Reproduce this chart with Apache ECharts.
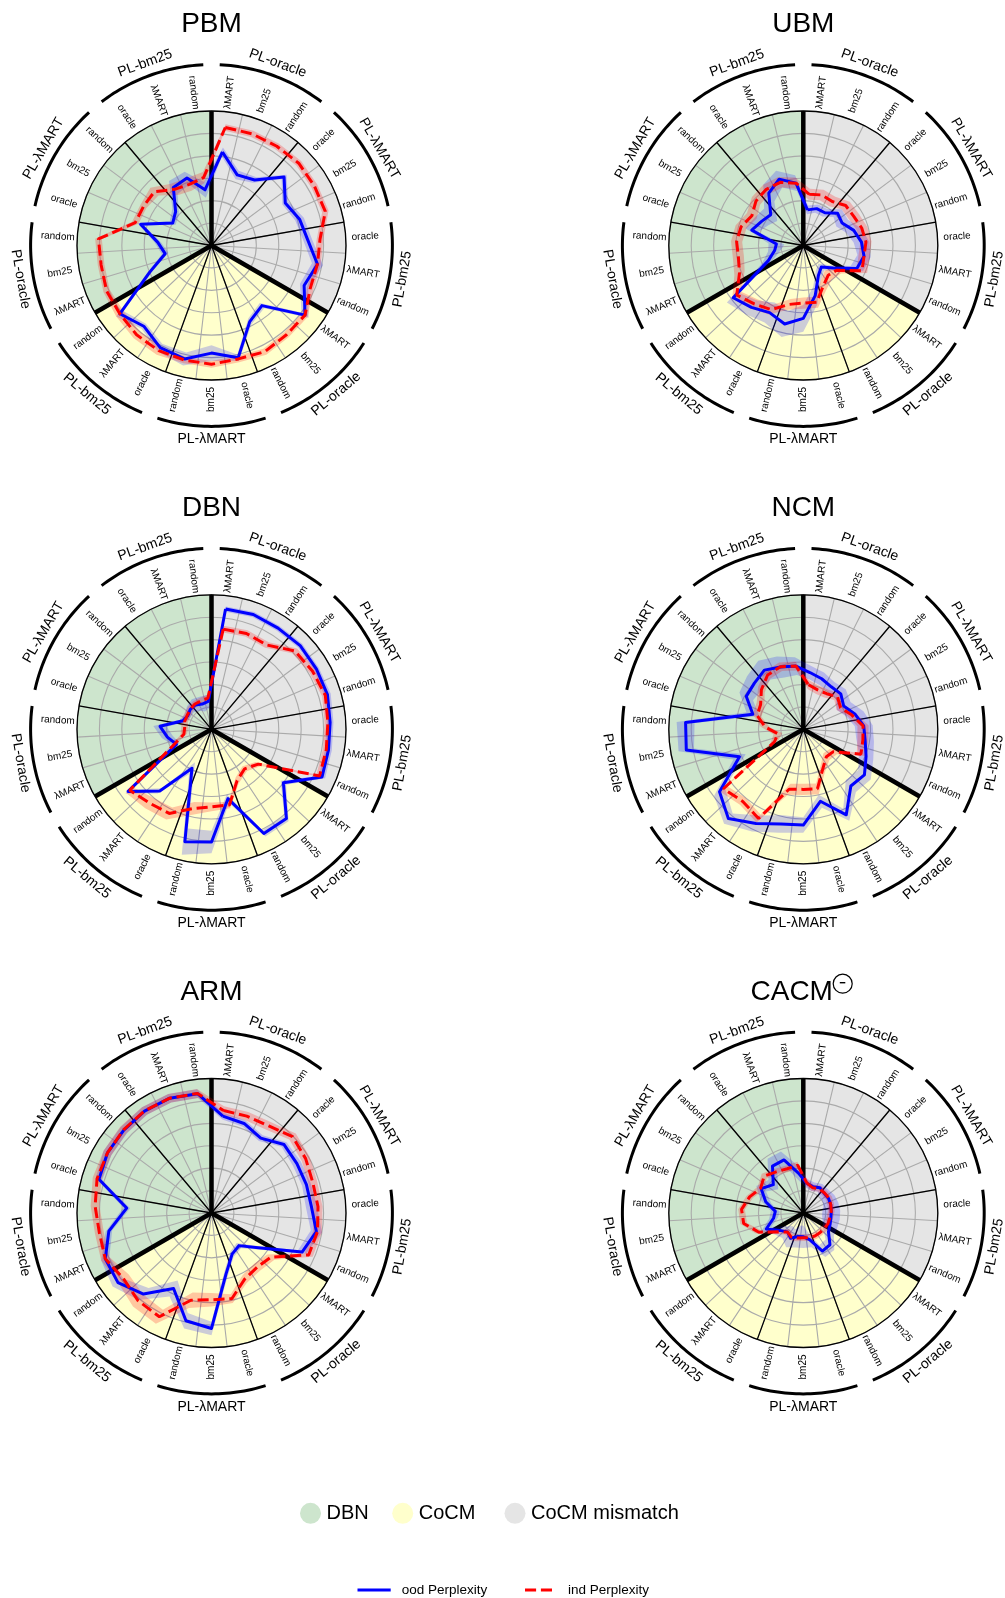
<!DOCTYPE html>
<html>
<head>
<meta charset="utf-8">
<title>Perplexity per click model</title>
<script src="https://cdn.jsdelivr.net/npm/echarts@6/dist/echarts.min.js"></script>
<style>
  html, body { margin: 0; padding: 0; background: #fff; }
  #main { width: 1005px; height: 1598px; }
</style>
</head>
<body>
<div id="main"></div>
<script>
// spokes go clockwise from 12 o'clock: 9 logging-policy groups x 3 rankers
const groupNames = ['PL-oracle', 'PL-λMART', 'PL-bm25', 'PL-oracle', 'PL-λMART', 'PL-bm25', 'PL-oracle', 'PL-λMART', 'PL-bm25']
const groupItems = {
  'PL-oracle': ['λMART', 'bm25', 'random'],
  'PL-λMART': ['oracle', 'bm25', 'random'],
  'PL-bm25': ['oracle', 'λMART', 'random']
}
const sectorColors = ['#e5e5e5', '#ffffcc', '#cde5cd'] // CoCM mismatch, CoCM, DBN
const panelNames = ['PBM', 'UBM', 'DBN', 'NCM', 'ARM', 'CACM']

// values in ring units (6 rings)
const pbmOod = [4.2, 3.35, 3.5, 4.45, 3.8, 4.1, 4.3, 4.8, 4.5, 5.2, 3.5, 3.8, 5.15, 4.8, 5.2, 5.1, 4.7, 5.1, 3.0, 2.1, 2.4, 3.3, 2.0, 2.2, 3.1, 3.2, 2.5]
const pbmOodSpread = [0.2, 0.2, 0.15, 0.15, 0.15, 0.2, 0.2, 0.25, 0.2, 0.2, 0.15, 0.15, 0.15, 0.35, 0.3, 0.2, 0.15, 0.2, 0.15, 0.15, 0.15, 0.15, 0.15, 0.2, 0.35, 0.3, 0.35]
const pbmInd = [5.3, 5.3, 5.3, 5.35, 5.3, 5.3, 4.85, 4.8, 4.8, 5.2, 5.2, 5.3, 5.2, 5.3, 5.25, 5.25, 5.2, 5.1, 5.1, 5.0, 5.05, 3.55, 3.5, 3.5, 3.0, 2.9, 3.05]
const pbmIndSpread = [0.15, 0.15, 0.15, 0.15, 0.15, 0.15, 0.15, 0.15, 0.15, 0.15, 0.15, 0.15, 0.15, 0.15, 0.15, 0.2, 0.2, 0.2, 0.15, 0.15, 0.15, 0.15, 0.15, 0.25, 0.3, 0.3, 0.25]

const ubmOod = [1.6, 1.75, 1.75, 2.1, 2.0, 2.35, 2.6, 2.75, 2.6, 1.68, 1.25, 1.5, 2.3, 3.25, 3.6, 3.35, 3.6, 3.9, 1.7, 1.3, 1.2, 2.4, 2.15, 2.0, 2.8, 3.15, 2.8]
const ubmOodSpread = [0.2, 0.2, 0.2, 0.25, 0.3, 0.35, 0.35, 0.3, 0.3, 0.2, 0.2, 0.25, 0.4, 0.6, 0.6, 0.5, 0.4, 0.35, 0.3, 0.3, 0.35, 0.3, 0.35, 0.4, 0.45, 0.4, 0.35]
const ubmInd = [2.3, 2.4, 2.35, 2.6, 2.6, 2.72, 2.8, 2.75, 2.85, 1.85, 1.73, 2.0, 2.6, 2.57, 2.7, 3.2, 3.4, 3.7, 3.1, 2.94, 2.98, 2.9, 2.65, 2.9, 3.0, 3.0, 2.8]
const ubmIndSpread = [0.25, 0.25, 0.25, 0.25, 0.25, 0.25, 0.25, 0.25, 0.25, 0.25, 0.25, 0.25, 0.25, 0.25, 0.25, 0.25, 0.25, 0.25, 0.25, 0.25, 0.25, 0.25, 0.25, 0.25, 0.25, 0.25, 0.25]

const dbnOod = [5.4, 5.45, 5.4, 5.44, 5.4, 5.4, 5.3, 5.3, 5.37, 4.0, 5.2, 5.2, 3.18, 5.03, 5.15, 1.94, 3.59, 4.64, 1.7, 2.0, 2.3, 1.33, 1.22, 1.3, 1.3, 1.2, 1.25]
const dbnOodSpread = [0.12, 0.12, 0.12, 0.12, 0.12, 0.15, 0.15, 0.15, 0.15, 0.15, 0.15, 0.15, 0.2, 0.5, 0.6, 0.3, 0.15, 0.15, 0.15, 0.25, 0.3, 0.15, 0.15, 0.2, 0.3, 0.35, 0.3]
const dbnInd = [4.5, 4.55, 4.5, 5.1, 5.2, 5.3, 5.2, 5.2, 5.25, 2.6, 2.3, 2.55, 3.47, 3.46, 3.63, 4.2, 4.3, 4.55, 1.9, 1.25, 1.2, 1.25, 1.25, 1.3, 1.35, 1.35, 1.4]
const dbnIndSpread = [0.15, 0.15, 0.15, 0.15, 0.15, 0.15, 0.15, 0.15, 0.15, 0.15, 0.15, 0.15, 0.15, 0.2, 0.3, 0.3, 0.3, 0.2, 0.15, 0.15, 0.15, 0.15, 0.15, 0.15, 0.15, 0.15, 0.15]

const ncmOod = [2.55, 2.4, 2.27, 2.3, 2.08, 2.4, 2.7, 2.8, 3.05, 3.4, 3.3, 4.27, 3.3, 4.27, 4.34, 4.7, 5.2, 4.66, 3.1, 5.3, 5.26, 2.35, 2.94, 3.0, 3.16, 2.96, 2.84]
const ncmOodSpread = [0.3, 0.3, 0.25, 0.3, 0.35, 0.4, 0.4, 0.4, 0.35, 0.35, 0.35, 0.3, 0.3, 0.35, 0.4, 0.4, 0.3, 0.3, 0.3, 0.35, 0.4, 0.3, 0.35, 0.45, 0.5, 0.5, 0.4]
const ncmInd = [2.0, 1.87, 1.9, 2.1, 1.92, 2.25, 2.67, 2.7, 2.8, 1.67, 1.6, 1.95, 2.73, 2.68, 2.75, 4.45, 4.2, 4.44, 1.4, 1.15, 1.7, 2.15, 2.2, 2.57, 2.9, 2.97, 2.84]
const ncmIndSpread = [0.2, 0.2, 0.2, 0.2, 0.2, 0.2, 0.25, 0.25, 0.2, 0.2, 0.2, 0.2, 0.25, 0.25, 0.25, 0.2, 0.2, 0.2, 0.2, 0.2, 0.2, 0.2, 0.2, 0.2, 0.2, 0.2, 0.2]

const armOod = [4.35, 4.25, 4.0, 4.45, 4.4, 4.42, 4.47, 4.75, 4.4, 2.6, 1.9, 2.05, 2.8, 5.15, 4.94, 3.77, 4.72, 5.2, 5.16, 4.65, 3.79, 5.24, 5.36, 5.38, 5.44, 5.45, 5.36]
const armOodSpread = [0.15, 0.15, 0.15, 0.15, 0.2, 0.2, 0.25, 0.25, 0.2, 0.15, 0.15, 0.15, 0.2, 0.3, 0.35, 0.4, 0.35, 0.3, 0.2, 0.15, 0.15, 0.15, 0.2, 0.2, 0.2, 0.2, 0.2]
const armInd = [4.6, 4.6, 4.65, 4.97, 4.85, 4.72, 4.76, 4.8, 4.72, 3.3, 3.16, 3.3, 3.93, 3.87, 4.0, 5.18, 5.1, 4.9, 5.16, 5.08, 5.2, 5.33, 5.36, 5.4, 5.45, 5.45, 5.37]
const armIndSpread = [0.2, 0.2, 0.2, 0.2, 0.2, 0.2, 0.2, 0.2, 0.2, 0.2, 0.2, 0.2, 0.2, 0.3, 0.35, 0.35, 0.35, 0.3, 0.2, 0.2, 0.2, 0.2, 0.2, 0.2, 0.2, 0.2, 0.2]

const cacmOod = [1.33, 1.25, 1.35, 1.28, 1.3, 1.28, 1.25, 1.25, 1.3, 1.4, 1.85, 1.9, 1.22, 1.06, 1.08, 1.26, 1.1, 1.3, 1.8, 1.35, 1.25, 1.75, 2.17, 1.84, 2.5, 2.52, 1.78]
const cacmOodSpread = [0.2, 0.2, 0.2, 0.25, 0.3, 0.35, 0.4, 0.4, 0.35, 0.3, 0.3, 0.3, 0.35, 0.5, 0.5, 0.45, 0.35, 0.3, 0.25, 0.2, 0.2, 0.25, 0.25, 0.3, 0.4, 0.4, 0.35]
const cacmInd = [1.35, 1.2, 1.3, 1.3, 1.32, 1.28, 1.25, 1.2, 1.2, 1.16, 1.15, 1.15, 1.13, 1.1, 1.15, 1.2, 1.1, 1.41, 2.16, 2.7, 2.76, 2.5, 2.2, 2.4, 2.2, 2.1, 2.15]
const cacmIndSpread = [0.15, 0.15, 0.15, 0.15, 0.15, 0.15, 0.15, 0.15, 0.15, 0.15, 0.15, 0.15, 0.15, 0.15, 0.15, 0.15, 0.15, 0.15, 0.15, 0.15, 0.15, 0.15, 0.15, 0.15, 0.15, 0.15, 0.15]

const panelData = [
  [pbmOod, pbmOodSpread, pbmInd, pbmIndSpread],
  [ubmOod, ubmOodSpread, ubmInd, ubmIndSpread],
  [dbnOod, dbnOodSpread, dbnInd, dbnIndSpread],
  [ncmOod, ncmOodSpread, ncmInd, ncmIndSpread],
  [armOod, armOodSpread, armInd, armIndSpread],
  [cacmOod, cacmOodSpread, cacmInd, cacmIndSpread]
]

// layout
const FONT = 'Liberation Sans'
const R = 134.5
const centers = [[211.5, 245.5], [803.3, 245.5], [211.5, 729.3], [803.3, 729.3], [211.5, 1213], [803.3, 1213]]
const RMAX = 6
const GRID = '#aaaaaa'

const spokeLabels = []
const spokeKeys = []
groupNames.forEach((g, j) => {
  groupItems[g].forEach(item => {
    spokeLabels.push(item)
    spokeKeys.push(j + ':' + item)
  })
})
const nSpoke = spokeKeys.length

function closed (vals) {
  const pts = vals.map((v, i) => [v, i])
  pts.push([vals[0], 0])
  return pts
}

function bandSeries (polarIndex, vals, spread, color) {
  return {
    type: 'custom',
    coordinateSystem: 'polar',
    polarIndex: polarIndex,
    z: 4,
    silent: true,
    data: [[0, 0]],
    renderItem (params, api) {
      const outer = vals.map((v, i) => api.coord([v + spread[i], i]))
      const inner = vals.map((v, i) => api.coord([Math.max(v - spread[i], 0), i]))
      const pts = outer.concat([outer[0], inner[0]], inner.slice(1).reverse(), [inner[0]])
      return { type: 'polygon', shape: { points: pts }, style: { fill: color } }
    }
  }
}

function labelSeries (polarIndex) {
  return {
    type: 'custom',
    coordinateSystem: 'polar',
    polarIndex: polarIndex,
    z: 8,
    silent: true,
    data: [[0, 0]],
    renderItem (params, api) {
      const children = []
      const step = 360 / nSpoke
      spokeLabels.forEach((lab, i) => {
        const th = (i + 0.5) * step
        const p = api.coord([6.87, th])
        const cw = th < 180 ? th - 90 : th - 270
        children.push({
          type: 'text', x: p[0], y: p[1], rotation: -cw * Math.PI / 180,
          style: { text: lab, font: '10px "' + FONT + '"', fill: '#000', align: 'center', verticalAlign: 'middle' }
        })
      })
      const span = 360 / groupNames.length
      groupNames.forEach((g, j) => {
        const a0 = j * span + 2.6
        const a1 = (j + 1) * span - 2.6
        const pts = []
        for (let s = 0; s <= 30; s++) pts.push(api.coord([8.07, a0 + (a1 - a0) * s / 30]))
        children.push({ type: 'polyline', shape: { points: pts }, style: { stroke: '#000', lineWidth: 3, fill: null } })
        const th = (j + 0.5) * span
        const p = api.coord([8.65, th])
        const cw = (th > 90 && th < 270) ? th - 180 : th
        children.push({
          type: 'text', x: p[0], y: p[1], rotation: -cw * Math.PI / 180,
          style: { text: g, font: '14px "' + FONT + '"', fill: '#000', align: 'center', verticalAlign: 'middle' }
        })
      })
      return { type: 'group', children: children }
    }
  }
}

const option = {
  animation: false,
  backgroundColor: '#fff',
  polar: [],
  angleAxis: [],
  radiusAxis: [],
  series: [],
  graphic: []
}

const hidden = { axisLine: { show: false }, axisTick: { show: false }, axisLabel: { show: false } }

panelNames.forEach((name, k) => {
  const c = centers[k]
  const base = k * 4
  const [ood, oodSpread, ind, indSpread] = panelData[k]
  for (let q = 0; q < 4; q++) option.polar.push({ center: c, radius: R })

  // shaded model sectors
  option.angleAxis.push(Object.assign({
    polarIndex: base, type: 'value', min: 0, max: 360, interval: 120, startAngle: 90, z: 0,
    splitLine: { show: false },
    splitArea: { show: true, areaStyle: { color: sectorColors } }
  }, hidden))
  option.radiusAxis.push({ polarIndex: base, min: 0, max: RMAX, show: false })

  // grey grid: spokes between rankers, rings
  option.angleAxis.push(Object.assign({
    polarIndex: base + 1, type: 'category', data: spokeKeys, boundaryGap: true, startAngle: 90, z: 1,
    splitLine: { show: true, interval: 0, lineStyle: { color: GRID, width: 1.1 } }
  }, hidden, { axisLabel: { show: false, interval: 0 } }))
  option.radiusAxis.push(Object.assign({
    polarIndex: base + 1, min: 0, max: RMAX, interval: 1, z: 1,
    splitLine: { show: true, lineStyle: { color: GRID, width: 1.1 } }
  }, hidden))

  // policy group separators + outer circle
  option.angleAxis.push({
    polarIndex: base + 2, type: 'value', min: 0, max: 360, interval: 40, startAngle: 90, z: 2,
    axisLine: { show: true, lineStyle: { color: '#000', width: 1.3 } },
    axisTick: { show: false }, axisLabel: { show: false },
    splitLine: { show: true, lineStyle: { color: '#000', width: 1.3 } }
  })
  option.radiusAxis.push({ polarIndex: base + 2, min: 0, max: RMAX, show: false })

  // thick model separators
  option.angleAxis.push(Object.assign({
    polarIndex: base + 3, type: 'value', min: 0, max: 360, interval: 120, startAngle: 90, z: 3,
    splitLine: { show: true, lineStyle: { color: '#000', width: 4.5 } }
  }, hidden))
  option.radiusAxis.push({ polarIndex: base + 3, min: 0, max: RMAX, show: false })

  option.series.push(bandSeries(base + 1, ood, oodSpread, 'rgba(0,0,255,0.2)'))
  option.series.push(bandSeries(base + 1, ind, indSpread, 'rgba(255,0,0,0.22)'))
  option.series.push({
    name: 'ood Perplexity', type: 'line', coordinateSystem: 'polar', polarIndex: base + 1,
    data: closed(ood), symbol: 'none', silent: true, z: 6,
    lineStyle: { color: '#0000ff', width: 3, join: 'round' }
  })
  option.series.push({
    name: 'ind Perplexity', type: 'line', coordinateSystem: 'polar', polarIndex: base + 1,
    data: closed(ind), symbol: 'none', silent: true, z: 7,
    lineStyle: { color: '#ff0000', width: 3, type: [11.1, 4.8] }
  })
  option.series.push(labelSeries(base + 2))

  // panel title
  if (name === 'CACM') {
    option.graphic.push({ type: 'text', x: c[0] - 11.6, y: c[1] - 221, style: { text: name, font: '28px "' + FONT + '"', fill: '#000', align: 'center', verticalAlign: 'middle' } })
    option.graphic.push({ type: 'circle', shape: { cx: c[0] + 39.4, cy: c[1] - 229.3, r: 9.5 }, style: { fill: '#fff', stroke: '#000', lineWidth: 1.2 } })
    option.graphic.push({ type: 'line', shape: { x1: c[0] + 36.5, y1: c[1] - 230.3, x2: c[0] + 42, y2: c[1] - 230.3 }, style: { stroke: '#000', lineWidth: 1.4 } })
  } else {
    option.graphic.push({ type: 'text', x: c[0], y: c[1] - 221, style: { text: name, font: '28px "' + FONT + '"', fill: '#000', align: 'center', verticalAlign: 'middle' } })
  }
})

// legends
const legendSectors = ['DBN', 'CoCM', 'CoCM mismatch']
const legendSectorColors = [sectorColors[2], sectorColors[1], sectorColors[0]]
const legendSectorX = [310.5, 402.7, 515]
legendSectors.forEach((t, i) => {
  option.graphic.push({ type: 'circle', shape: { cx: legendSectorX[i], cy: 1513.3, r: 10.5 }, style: { fill: legendSectorColors[i] } })
  option.graphic.push({ type: 'text', x: legendSectorX[i] + 16, y: 1513.3, style: { text: t, font: '20px "' + FONT + '"', fill: '#000', align: 'left', verticalAlign: 'middle' } })
})
option.graphic.push({ type: 'line', shape: { x1: 357.5, y1: 1590, x2: 390.7, y2: 1590 }, style: { stroke: '#0000ff', lineWidth: 3 } })
option.graphic.push({ type: 'text', x: 401.7, y: 1590, style: { text: 'ood Perplexity', font: '13.5px "' + FONT + '"', fill: '#000', align: 'left', verticalAlign: 'middle' } })
option.graphic.push({ type: 'line', shape: { x1: 525, y1: 1590, x2: 552.7, y2: 1590 }, style: { stroke: '#ff0000', lineWidth: 3, lineDash: [11.1, 4.8] } })
option.graphic.push({ type: 'text', x: 568, y: 1590, style: { text: 'ind Perplexity', font: '13.5px "' + FONT + '"', fill: '#000', align: 'left', verticalAlign: 'middle' } })

const chart = echarts.init(document.getElementById('main'), null, { renderer: 'canvas' })
chart.setOption(option)
</script>
</body>
</html>
